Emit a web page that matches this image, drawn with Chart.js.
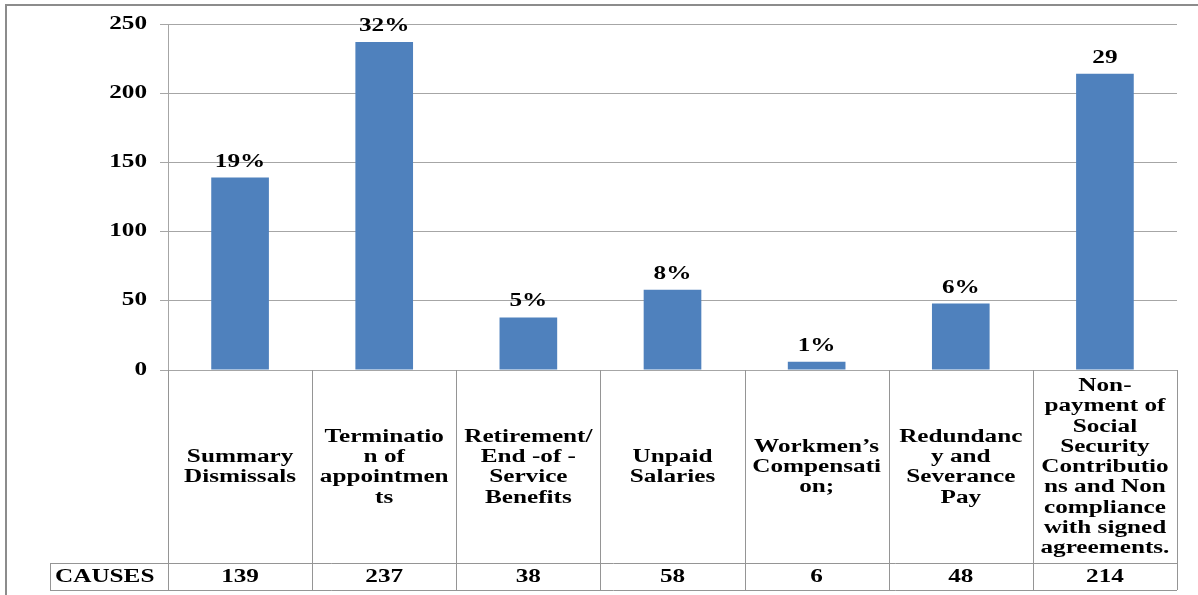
<!DOCTYPE html>
<html>
<head>
<meta charset="utf-8">
<script src="https://cdn.jsdelivr.net/npm/chart.js@4/dist/chart.umd.min.js"></script>
<style>
  html, body { margin: 0; padding: 0; background: #ffffff; }
  #wrap { width: 1198px; height: 595px; position: relative; }
</style>
</head>
<body>
<div id="wrap"><canvas id="chart" width="1198" height="595"></canvas></div>
<script>
// Causes of disputes: category labels (wrapped as in the data table)
const categories = [
  ["Summary", "Dismissals"],
  ["Terminatio", "n of", "appointmen", "ts"],
  ["Retirement/", "End -of -", "Service", "Benefits"],
  ["Unpaid", "Salaries"],
  ["Workmen\u2019s", "Compensati", "on;"],
  ["Redundanc", "y and", "Severance", "Pay"],
  ["Non-", "payment of", "Social", "Security", "Contributio", "ns and Non", "compliance", "with signed", "agreements."]
];
// Number of cases per cause
const causes = [139, 237, 38, 58, 6, 48, 214];
// Labels shown above each bar
const barLabels = ["19%", "32%", "5%", "8%", "1%", "6%", "29"];
// Value axis ticks
const yTicks = [0, 50, 100, 150, 200, 250];
const rowHeader = "CAUSES";

const FONT = 'bold 18px "Liberation Serif", "Times New Roman", serif';
const STRETCH = 1.4;          // wide bold serif lettering
const LINE_H = 20.3;
const GRID = '#a6a6a6';
const TABLE_LINE = '#959595';
const BAR = '#4f81bd';
const LABEL_ROW_BOTTOM = 563;
const TABLE_BOTTOM = 590;
const HEADER_LEFT = 50;

function wideText(ctx, text, x, y, align) {
  ctx.save();
  ctx.translate(x, y);
  ctx.scale(STRETCH, 1);
  ctx.textAlign = align;
  ctx.fillText(text, 0, 0);
  ctx.restore();
}

function hLine(ctx, x1, x2, y) {
  ctx.beginPath();
  ctx.moveTo(x1, Math.round(y) + 0.5);
  ctx.lineTo(x2, Math.round(y) + 0.5);
  ctx.stroke();
}
function vLine(ctx, x, y1, y2) {
  ctx.beginPath();
  ctx.moveTo(Math.round(x) + 0.5, y1);
  ctx.lineTo(Math.round(x) + 0.5, y2);
  ctx.stroke();
}

const decorations = {
  id: 'decorations',
  afterDatasetsDraw(chart) {
    const ctx = chart.ctx;
    const meta = chart.getDatasetMeta(0);
    ctx.save();
    ctx.font = FONT;
    ctx.fillStyle = '#000';
    ctx.textBaseline = 'alphabetic';
    meta.data.forEach((bar, i) => {
      wideText(ctx, barLabels[i], bar.x, bar.y - 11, 'center');
    });
    ctx.restore();
  },
  afterDraw(chart) {
    const ctx = chart.ctx;
    const area = chart.chartArea;
    const xs = chart.scales.x;
    const ys = chart.scales.y;
    const n = categories.length;
    const colW = (area.right - area.left) / n;

    ctx.save();
    // outer frame
    ctx.strokeStyle = '#8c8c8c';
    ctx.lineWidth = 2;
    ctx.beginPath();
    ctx.moveTo(6, 600);
    ctx.lineTo(6, 5);
    ctx.lineTo(1200, 5);
    ctx.stroke();

    // value axis labels
    ctx.font = FONT;
    ctx.fillStyle = '#000';
    ctx.textBaseline = 'middle';
    yTicks.forEach(v => {
      wideText(ctx, String(v), 147, ys.getPixelForValue(v), 'right');
    });

    // data table under the bars
    ctx.strokeStyle = TABLE_LINE;
    ctx.lineWidth = 1;
    for (let i = 0; i <= n; i++) {
      const x = i < n ? xs.getPixelForValue(i) - colW / 2 : xs.getPixelForValue(n - 1) + colW / 2;
      vLine(ctx, x, area.bottom, TABLE_BOTTOM);
    }
    vLine(ctx, HEADER_LEFT, LABEL_ROW_BOTTOM, TABLE_BOTTOM);
    hLine(ctx, HEADER_LEFT, area.right, LABEL_ROW_BOTTOM);
    hLine(ctx, HEADER_LEFT, area.right, TABLE_BOTTOM);

    const midLabel = (area.bottom + LABEL_ROW_BOTTOM) / 2 + 1;
    const midValue = (LABEL_ROW_BOTTOM + TABLE_BOTTOM) / 2 + 1;
    ctx.textBaseline = 'middle';
    categories.forEach((lines, i) => {
      const cx = xs.getPixelForValue(i);
      const top = midLabel - (lines.length - 1) * LINE_H / 2;
      lines.forEach((ln, k) => wideText(ctx, ln, cx, top + k * LINE_H, 'center'));
      wideText(ctx, String(causes[i]), cx, midValue, 'center');
    });
    wideText(ctx, rowHeader, HEADER_LEFT + 5, midValue, 'left');
    ctx.restore();
  }
};

new Chart(document.getElementById('chart'), {
  type: 'bar',
  data: {
    labels: categories,
    datasets: [{
      data: causes,
      backgroundColor: BAR,
      borderWidth: 0,
      categoryPercentage: 1,
      barPercentage: 0.4
    }]
  },
  options: {
    responsive: false,
    animation: false,
    layout: { padding: { left: 0, top: 24, right: 21, bottom: 225 } },
    plugins: { legend: { display: false }, tooltip: { enabled: false } },
    scales: {
      x: { display: false },
      y: {
        min: 0,
        max: 250,
        afterBuildTicks(scale) { scale.ticks = yTicks.map(v => ({ value: v })); },
        afterFit(scale) { scale.width = 168; },
        ticks: { display: false },
        grid: { color: GRID, lineWidth: 1, drawTicks: true, tickLength: 8, tickColor: GRID },
        border: { display: true, color: GRID, width: 1 }
      }
    }
  },
  plugins: [decorations]
});
</script>
</body>
</html>
